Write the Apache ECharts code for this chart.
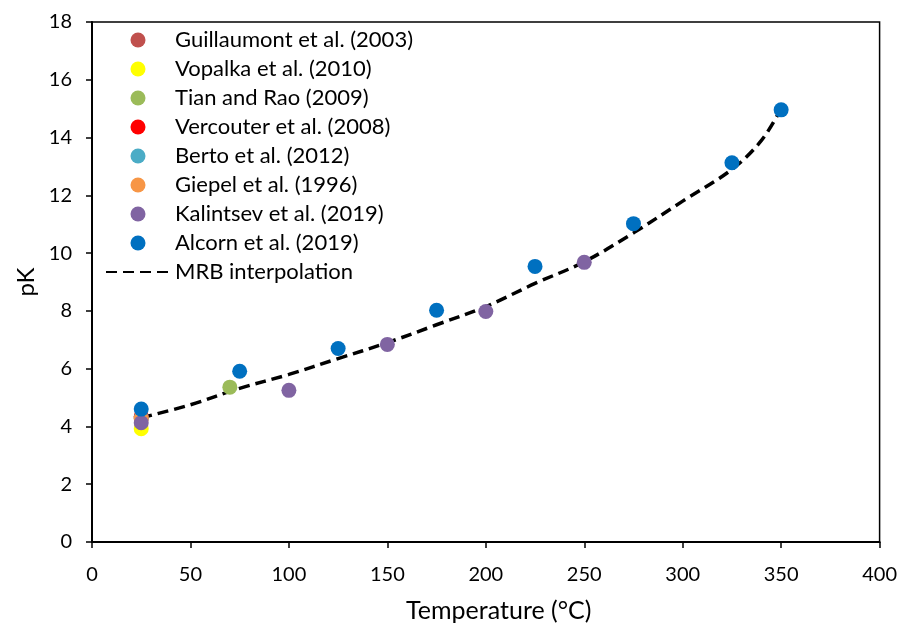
<!DOCTYPE html>
<html>
<head>
<meta charset="utf-8">
<script src="https://cdn.jsdelivr.net/npm/echarts@6/dist/echarts.min.js"></script>
<style>
  html, body { margin: 0; padding: 0; background: #fff; }
  #chart { width: 900px; height: 628px; }
</style>
</head>
<body>
<div id="chart"></div>
<script>
// data: [temperature (°C), pK]
const guillaumont = [[25, 4.3]];
const vopalka = [[25, 3.92]];
const tianRao = [[70, 5.36]];
const vercouter = [[25, 4.35]];
const berto = [[25, 4.3]];
const giepel = [[25, 4.27]];
const kalintsev = [[25, 4.13], [100, 5.25], [150, 6.84], [200, 7.98], [250, 9.68]];
const alcorn = [[25, 4.6], [75, 5.91], [125, 6.7], [175, 8.02], [225, 9.54], [275, 11.02], [325, 13.13], [350, 14.96]];
const mrbT = [25, 50, 75, 100, 125, 150, 175, 200, 225, 250, 275, 300, 325, 340, 350];
const mrbPK = [4.3, 4.75, 5.32, 5.8, 6.35, 6.9, 7.52, 8.15, 8.95, 9.7, 10.7, 11.8, 12.9, 13.9, 15.0];

const font = "Lato, 'Open Sans', sans-serif";

const scatterDefs = [
  { name: "Guillaumont et al. (2003)", data: guillaumont, color: "#C0504D" },
  { name: "Vopalka et al. (2010)", data: vopalka, color: "#FFFF00" },
  { name: "Tian and Rao (2009)", data: tianRao, color: "#9BBB59" },
  { name: "Vercouter et al. (2008)", data: vercouter, color: "#FF0000" },
  { name: "Berto et al. (2012)", data: berto, color: "#4BACC6" },
  { name: "Giepel et al. (1996)", data: giepel, color: "#F79646" },
  { name: "Kalintsev et al. (2019)", data: kalintsev, color: "#8064A2" },
  { name: "Alcorn et al. (2019)", data: alcorn, color: "#0070C0" }
];

const series = [];
scatterDefs.forEach(function (s) {
  series.push({
    name: s.name,
    type: "scatter",
    data: s.data,
    symbol: "circle",
    symbolSize: 15,
    z: 3,
    itemStyle: { color: s.color, opacity: 1 }
  });
});
series.push({
  name: "MRB interpolation",
  type: "line",
  data: mrbT.map((t, i) => [t, mrbPK[i]]),
  smooth: 0.35,
  symbol: "none",
  z: 1,
  itemStyle: { color: "#000" },
  lineStyle: { color: "#000", width: 3.5, type: [11, 6] }
});

// hide the dot that the line series puts in its legend icon
const legendData = scatterDefs.map(s => ({ name: s.name }));
legendData.push({ name: "MRB interpolation", itemStyle: { opacity: 0 } });

const myChart = echarts.init(document.getElementById("chart"));
myChart.setOption({
  animation: false,
  textStyle: { fontFamily: font },
  grid: {
    left: 92, right: 20, top: 22, bottom: 85,
    show: true, borderColor: "#000", borderWidth: 1.5, backgroundColor: "transparent"
  },
  legend: {
    show: true,
    orient: "vertical",
    left: 100,
    top: 24,
    itemWidth: 64,
    itemHeight: 15,
    itemGap: 7,
    data: legendData,
    textStyle: { fontFamily: font, fontSize: 22, color: "#000" },
    selectedMode: false
  },
  xAxis: {
    type: "value",
    min: 0, max: 400, interval: 50,
    name: "Temperature (°C)",
    nameLocation: "middle",
    nameGap: 56,
    nameTextStyle: { fontFamily: font, fontSize: 25, color: "#000", padding: [0, 0, 0, 26] },
    splitLine: { show: false },
    axisLine: { show: true, onZero: false, lineStyle: { color: "#000", width: 2 } },
    axisTick: { show: true, inside: false, length: 6, lineStyle: { color: "#000", width: 1.5 } },
    axisLabel: { fontFamily: font, fontSize: 20, color: "#000", margin: 23 }
  },
  yAxis: {
    type: "value",
    min: 0, max: 18, interval: 2,
    name: "pK",
    nameLocation: "middle",
    nameGap: 50,
    nameTextStyle: { fontFamily: font, fontSize: 24, color: "#000" },
    splitLine: { show: false },
    axisLine: { show: true, onZero: false, lineStyle: { color: "#000", width: 2 } },
    axisTick: { show: true, inside: false, length: 6, lineStyle: { color: "#000", width: 1.5 } },
    axisLabel: { fontFamily: font, fontSize: 20, color: "#000", margin: 20 }
  },
  series: series
});
</script>
</body>
</html>
